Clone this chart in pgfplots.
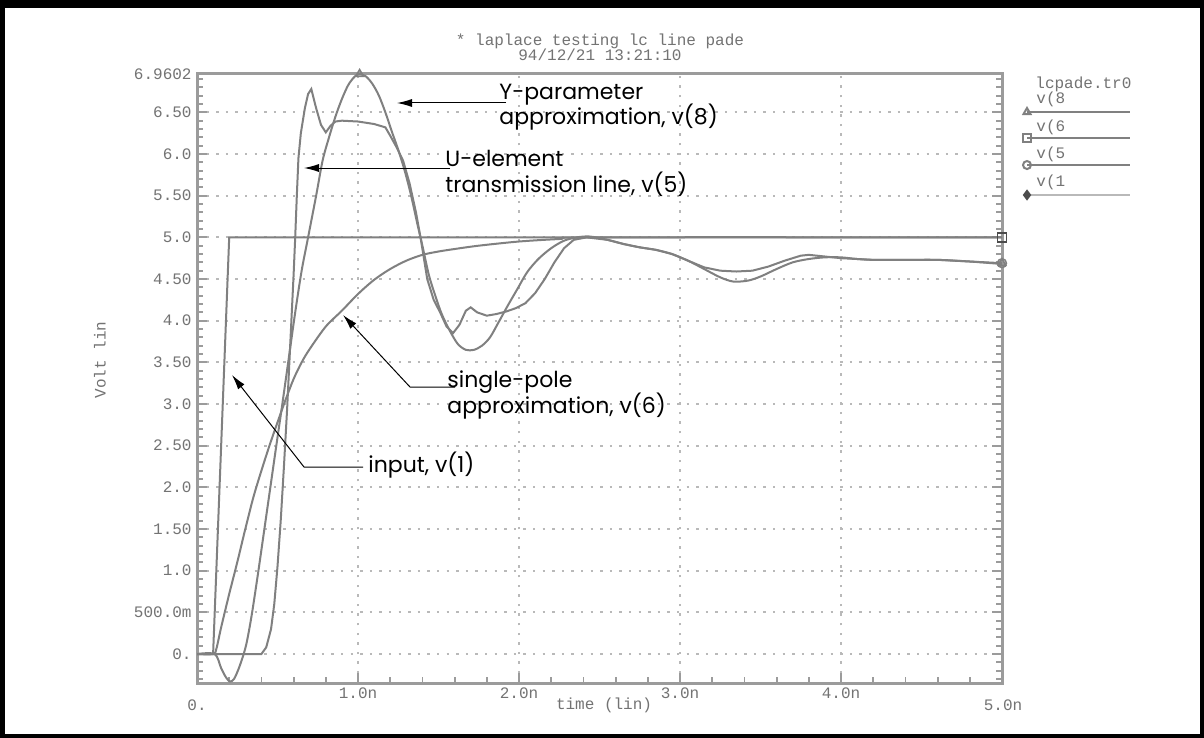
\documentclass[border=0pt]{standalone}
\usepackage{pgfplots}
\pgfplotsset{compat=1.18}
\usepackage{fontspec}
\setmainfont{Poppins}
\setmonofont{Liberation Mono}
\newfontfamily\annfont{Poppins}
\usetikzlibrary{arrows.meta}
\definecolor{curve}{RGB}{128,128,128}
\definecolor{axisgray}{RGB}{155,155,155}
\definecolor{gridgray}{RGB}{185,185,185}
\definecolor{txtgray}{RGB}{115,115,115}
\newcommand{\mono}{\ttfamily\fontsize{8}{9}\selectfont\color{txtgray}}
\newcommand{\ann}{\annfont\fontsize{11}{13}\selectfont}
\begin{document}
\begin{tikzpicture}
\begin{scope}[x=0.5pt,y=-0.5pt]
\fill[black] (0,0) rectangle (1204,738);
\fill[white] (5,8) rectangle (1200,734);
\end{scope}
\begin{axis}[at={(98.5pt,-341.5pt)}, anchor=south west, scale only axis,
  width=402.5pt, height=304.5pt,
  xmin=0, xmax=5, ymin=-0.348, ymax=6.9602,
  axis line style={draw=axisgray, line width=1.5pt},
  tick align=inside, xtick pos=bottom, ytick pos=both, yticklabel pos=left,
  xtick={0,1,2,3,4,5}, xticklabels={,1.0n,2.0n,3.0n,4.0n,},
  minor xtick={0.2,0.4,0.6,0.8,1.2,1.4,1.6,1.8,2.2,2.4,2.6,2.8,3.2,3.4,3.6,3.8,4.2,4.4,4.6,4.8},
  ytick={0,0.5,1,1.5,2,2.5,3,3.5,4,4.5,5,5.5,6,6.5,6.9602},
  yticklabels={0.,500.0m,1.0,1.50,2.0,2.50,3.0,3.50,4.0,4.50,5.0,5.50,6.0,6.50,6.9602},
  minor ytick={-0.3,-0.2,...,6.9},
  major tick length=5pt, minor tick length=3pt,
  tick style={axisgray, line width=0.9pt},
  xmajorgrids, ymajorgrids,
  major grid style={gridgray, line width=0.9pt, dash pattern=on 1.2pt off 3.6pt},
  ticklabel style={font=\mono, inner sep=0pt},
  yticklabel style={anchor=east, xshift=-2.5pt},
  xticklabel style={anchor=north, yshift=-2pt},
]
% v(1) input
\addplot[curve, line width=1pt, mark=none] coordinates {(0,0) (0.1,0) (0.2,5) (5,5)};
% v(6) single-pole
\addplot[curve, line width=1pt, mark=none, smooth] coordinates {
(0,0) (0.1,0) (0.12,0.06) (0.15,0.32) (0.2,0.72) (0.25,1.1) (0.3,1.5) (0.35,1.88) (0.4,2.2) (0.45,2.5) (0.5,2.78) (0.55,3.05) (0.6,3.3) (0.65,3.5) (0.7,3.66) (0.8,3.93) (0.9,4.12) (1.0,4.32) (1.1,4.49) (1.2,4.62) (1.3,4.72) (1.4,4.79) (1.5,4.83) (1.6,4.86) (1.75,4.9) (2.0,4.95) (2.25,4.98) (2.5,5.0) (5.0,5.0)};
% v(8) Y-parameter
\addplot[curve, line width=1pt, mark=none, smooth] coordinates {
(0,0) (0.11,0) (0.15,-0.17) (0.18,-0.28) (0.205,-0.33) (0.23,-0.3) (0.26,-0.17) (0.29,0) (0.31,0.15) (0.34,0.47) (0.38,0.98) (0.42,1.52) (0.46,2.06) (0.5,2.6) (0.53,3.0) (0.57,3.55) (0.61,4.1) (0.65,4.6) (0.69,5.0) (0.74,5.5) (0.78,5.92) (0.82,6.2) (0.86,6.45) (0.9,6.66) (0.94,6.83) (0.98,6.93) (1.01,6.96) (1.05,6.93) (1.09,6.84) (1.13,6.7) (1.17,6.5) (1.21,6.27) (1.25,6.05) (1.29,5.8) (1.33,5.5) (1.37,5.15) (1.40,4.9) (1.44,4.55) (1.48,4.3) (1.52,4.08) (1.57,3.88) (1.62,3.72) (1.67,3.65) (1.72,3.65) (1.77,3.7) (1.82,3.8) (1.87,3.97) (1.93,4.18) (1.99,4.38) (2.05,4.58) (2.12,4.74) (2.2,4.87) (2.28,4.96) (2.36,5.0) (2.44,5.01) (2.55,4.97) (2.65,4.92) (2.75,4.88) (2.85,4.85) (2.95,4.8) (3.05,4.72) (3.15,4.62) (3.25,4.52) (3.33,4.47) (3.42,4.48) (3.5,4.53) (3.6,4.62) (3.7,4.7) (3.8,4.74) (3.9,4.76) (4.0,4.76) (4.1,4.74) (4.2,4.73) (4.4,4.73) (4.6,4.73) (4.8,4.71) (5.0,4.68)};
% v(5) U-element
\addplot[curve, line width=1pt, mark=none] coordinates {
(0,0) (0.40,0) (0.43,0.08) (0.46,0.3) (0.48,0.6) (0.5,1.05) (0.52,1.6) (0.54,2.25) (0.56,2.95) (0.58,3.75) (0.6,4.55) (0.61,5.0) (0.62,5.5) (0.63,5.95) (0.645,6.25) (0.67,6.55) (0.69,6.72) (0.71,6.78) (0.74,6.55) (0.77,6.35) (0.8,6.26) (0.83,6.34) (0.86,6.39) (0.9,6.4) (1.0,6.39) (1.1,6.36) (1.17,6.32) (1.2,6.22) (1.24,6.08) (1.28,5.92) (1.32,5.65) (1.36,5.3) (1.39,4.98) (1.43,4.5) (1.47,4.25) (1.51,4.1) (1.55,3.93) (1.59,3.85) (1.63,3.95) (1.67,4.12) (1.70,4.16) (1.74,4.1) (1.8,4.06) (1.86,4.08) (1.92,4.11) (1.98,4.15) (2.04,4.21) (2.1,4.33) (2.16,4.5) (2.22,4.7) (2.28,4.87) (2.34,4.97) (2.42,5.0) (2.55,4.97) (2.65,4.92) (2.75,4.88) (2.85,4.85) (2.95,4.8) (3.05,4.72) (3.15,4.64) (3.25,4.6) (3.35,4.59) (3.45,4.6) (3.55,4.65) (3.65,4.72) (3.75,4.78) (3.8,4.79) (3.9,4.77) (4.0,4.75) (4.2,4.73) (4.6,4.73) (5.0,4.69)};
% end markers
\addplot[only marks, mark=square, mark size=2.2pt, draw=black!70, line width=0.8pt] coordinates {(5,5)};
\addplot[only marks, mark=o, mark size=2.2pt, draw=curve, line width=0.8pt] coordinates {(5,4.69)};
\addplot[only marks, mark=triangle, mark size=2.2pt, draw=curve, line width=0.8pt] coordinates {(5,4.69) (1.01,6.96)};
\end{axis}
% legend lines via a hidden axis
\begin{axis}[at={(513.5pt,-97.5pt)}, anchor=south west, scale only axis,
  width=51.5pt, height=41.5pt, xmin=0, xmax=1, ymin=0, ymax=1, hide axis, clip=false]
\addplot[curve, line width=1pt, mark=triangle, mark size=2pt, mark indices={1}] coordinates {(0,1) (1,1)};
\addplot[curve, line width=1pt, mark=square, mark size=2pt, mark indices={1}] coordinates {(0,0.687) (1,0.687)};
\addplot[curve, line width=1pt, mark=o, mark size=2pt, mark indices={1}] coordinates {(0,0.361) (1,0.361)};
\addplot[gridgray, line width=1pt, mark=diamond*, mark size=2pt, mark indices={1}, mark options={fill=black!70,draw=black!70}] coordinates {(0,0) (1,0)};
\end{axis}
\begin{scope}[x=0.5pt,y=-0.5pt]
% title
\node[font=\mono] at (600,41) {* laplace testing lc line pade};
\node[font=\mono] at (600,55) {94/12/21 13:21:10};
% x labels
\node[font=\mono] at (197,705) {0.};
\node[font=\mono] at (1003,705) {5.0n};
\node[font=\mono] at (604,705) {time (lin)};
% y label
\node[font=\mono, rotate=90] at (100,360) {Volt lin};
% legend text
\node[font=\mono, anchor=west, inner sep=0pt] at (1035,84) {lcpade.tr0};
\node[font=\mono, anchor=west, inner sep=0pt] at (1036,99) {v(8};
\node[font=\mono, anchor=west, inner sep=0pt] at (1036,127) {v(6};
\node[font=\mono, anchor=west, inner sep=0pt] at (1036,154) {v(5};
\node[font=\mono, anchor=west, inner sep=0pt] at (1036,182) {v(1};
% annotations
\node[font=\ann, anchor=base west, inner sep=0pt] at (499,99) {Y-parameter};
\node[font=\ann, anchor=base west, inner sep=0pt] at (499,125) {approximation, v(8)};
\draw[black, line width=0.5pt, -{Latex[length=7.5pt,width=4pt]}] (506,103) -- (397,103);
\node[font=\ann, anchor=base west, inner sep=0pt] at (445,166) {U-element};
\node[font=\ann, anchor=base west, inner sep=0pt] at (445,192) {transmission line, v(5)};
\draw[black, line width=0.5pt, -{Latex[length=7.5pt,width=4pt]}] (450,168) -- (304,168);
\node[font=\ann, anchor=base west, inner sep=0pt] at (447,387) {single-pole};
\node[font=\ann, anchor=base west, inner sep=0pt] at (447,413) {approximation, v(6)};
\draw[black, line width=0.5pt, -{Latex[length=7.5pt,width=4pt]}] (455,387) -- (410,387) -- (343,315);
\node[font=\ann, anchor=base west, inner sep=0pt] at (368,472) {input, v(1)};
\draw[black, line width=0.5pt, -{Latex[length=7.5pt,width=4pt]}] (363,467) -- (304,467) -- (232,375);
\end{scope}
\end{tikzpicture}
\end{document}
